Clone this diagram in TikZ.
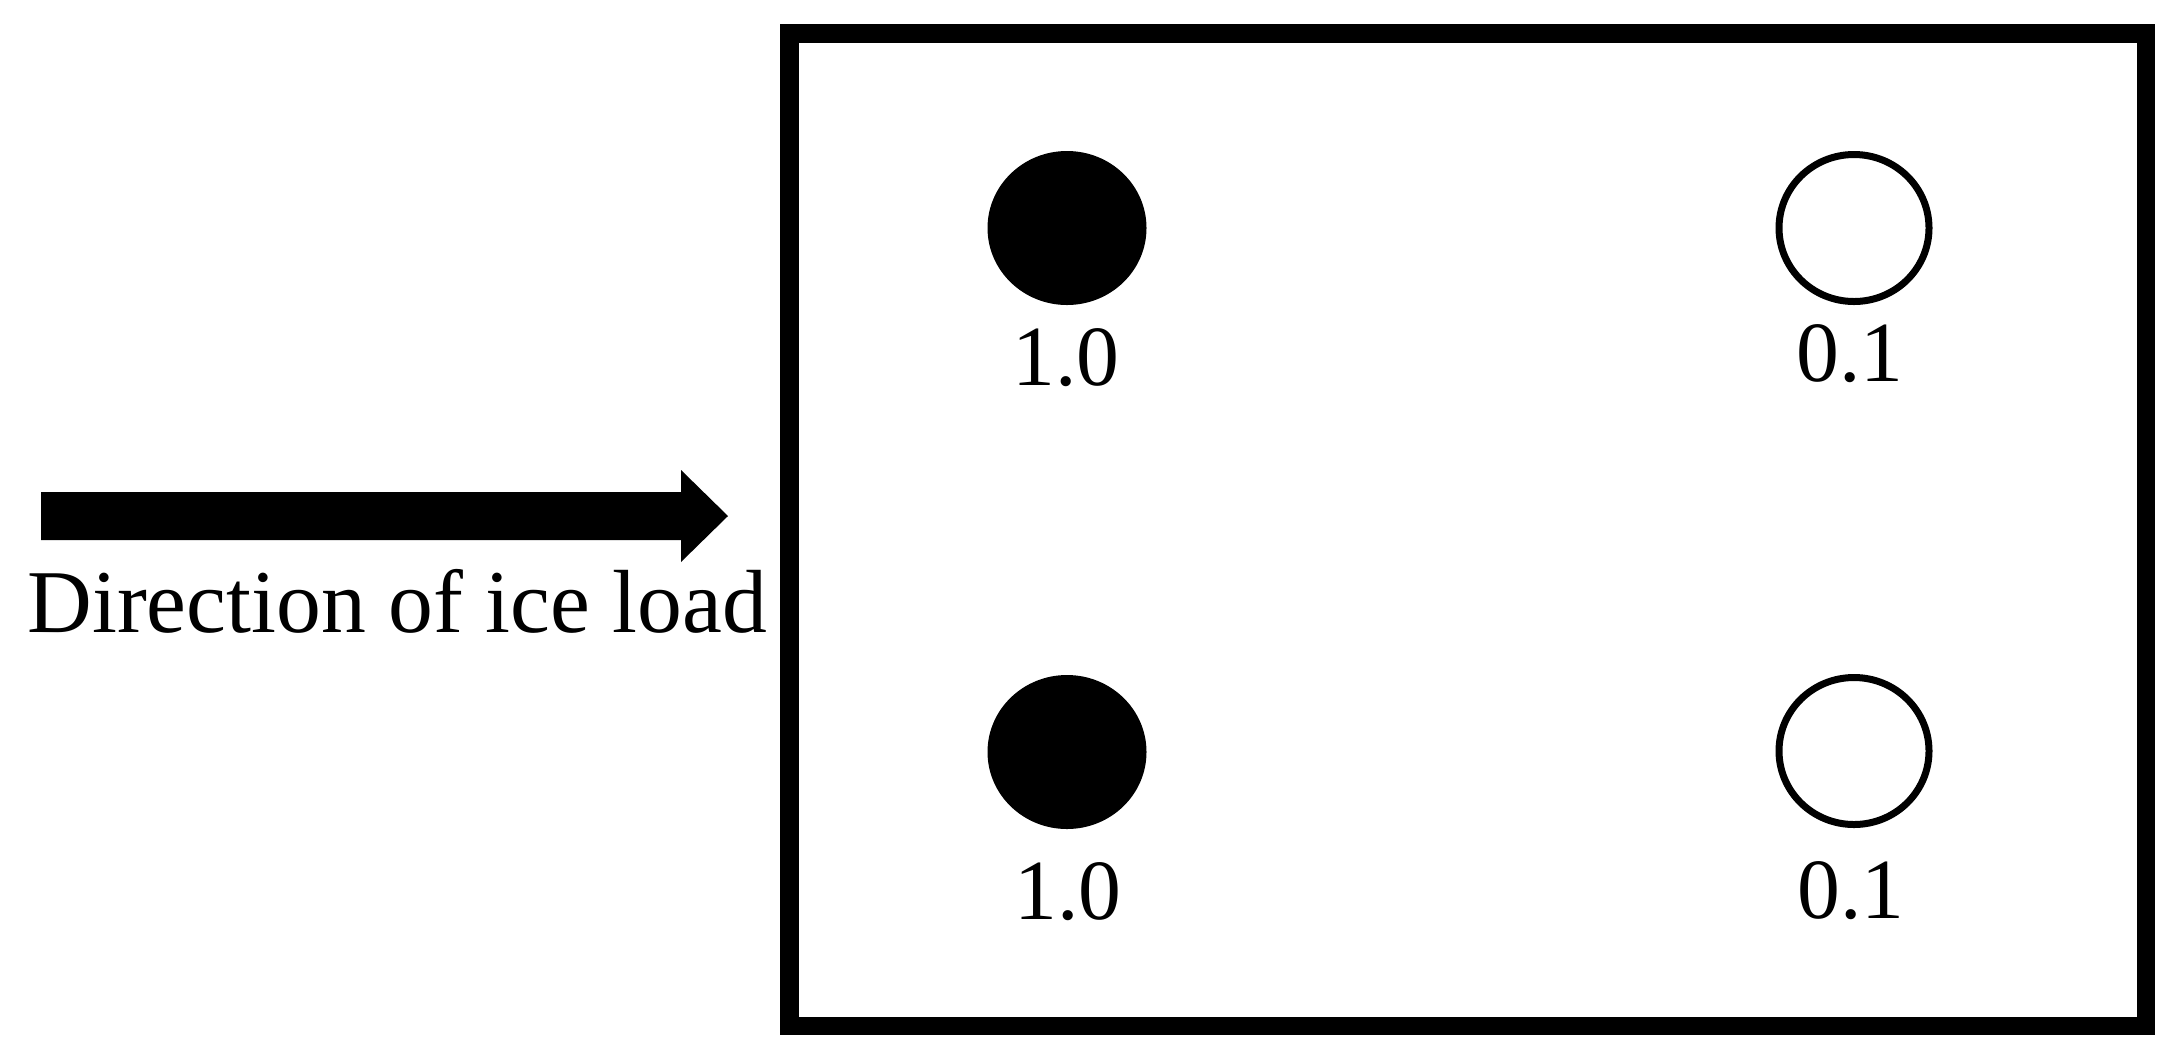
\documentclass[tikz,border=0pt]{standalone}
\usepackage{fontspec}
\setmainfont{Liberation Serif}
\usetikzlibrary{shapes.geometric}
\tikzset{
  pilefull/.style={ellipse, fill=black, draw=none, inner sep=0pt,
    minimum width=79.5bp, minimum height=77bp},
  pileopen/.style={ellipse, draw=black, line width=3.5bp, fill=white, inner sep=0pt,
    minimum width=75bp, minimum height=73.5bp},
  factor/.style={anchor=base, inner sep=0pt, font=\fontsize{43}{50}\selectfont},
  caption/.style={anchor=base west, inner sep=0pt, font=\fontsize{45}{54}\selectfont},
  frame/.style={draw=black, line width=9.25bp},
}
\begin{document}
\begin{tikzpicture}[x=0.5bp, y=-0.5bp]
\useasboundingbox (0,0) rectangle (2180,1061);
% frame
\draw[frame] (789.5,33.5) rectangle (2146,1026);
% piles
\node[pilefull] (p1) at (1067,228) {};
\node[pilefull] (p2) at (1067,752) {};
\node[pileopen] (p3) at (1854,228) {};
\node[pileopen] (p4) at (1854,751) {};
% factors
\node[factor] (l1) at (1066,385) {1.0};
\node[factor] (l2) at (1068,919) {1.0};
\node[factor] (l3) at (1850,381) {0.1};
\node[factor] (l4) at (1851,918) {0.1};
% arrow
\coordinate (tail) at (41,516);
\coordinate (tip) at (728,516);
\fill[black] (41,492) -- (681,492) -- (681,470) -- (tip) -- (681,562) -- (681,540) -- (41,540) -- cycle;
\node[caption] (cap) at (27,632) {Direction of ice load};
\end{tikzpicture}
\end{document}
